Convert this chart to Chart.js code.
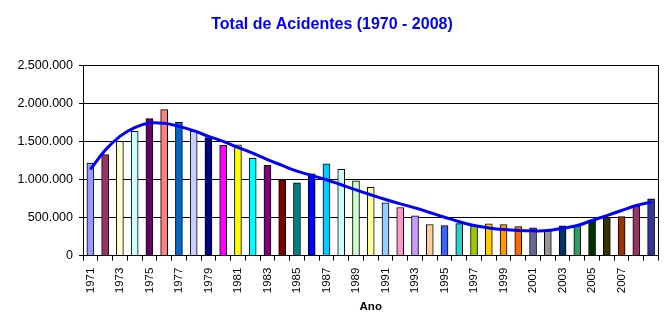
<!DOCTYPE html>
<html>
<head>
<meta charset="utf-8">
<script src="https://cdn.jsdelivr.net/npm/chart.js@4/dist/chart.umd.min.js"></script>
<style>
  html, body { margin: 0; padding: 0; background: #fff; }
  #wrap { width: 672px; height: 329px; }
</style>
</head>
<body>
<div id="wrap"><canvas id="acidentesChart" width="672" height="329"></canvas></div>
<script>
// categories (last one has no label in the original)
const years = ['1971','1972','1973','1974','1975','1976','1977','1978','1979','1980',
               '1981','1982','1983','1984','1985','1986','1987','1988','1989','1990',
               '1991','1992','1993','1994','1995','1996','1997','1998','1999','2000',
               '2001','2002','2003','2004','2005','2006','2007','2008',''];

const acidentes = [1214000, 1325000, 1500000, 1632000, 1799000, 1917000, 1750000, 1632000, 1549000, 1447000,
                   1456000, 1276000, 1184000, 996000, 956000, 1075000, 1206000, 1132000, 982000, 895000,
                   693000, 632000, 522000, 408000, 395000, 421000, 395000, 417000, 408000, 382000,
                   364000, 338000, 391000, 399000, 461000, 504000, 513000, 649000, 746000];

// polynomial trend line
const tendencia = [1132000, 1382000, 1566000, 1680000, 1741000, 1737000, 1697000, 1640000, 1566000, 1500000,
                   1421000, 1346000, 1260000, 1184000, 1109000, 1053000, 996000, 930000, 864000, 799000,
                   737000, 680000, 627000, 566000, 504000, 445000, 395000, 364000, 342000, 329000,
                   325000, 329000, 360000, 395000, 461000, 526000, 592000, 658000, 702000];

const barColors = ['#9999FF','#993366','#FFFFCC','#CCFFFF','#660066','#FF8080','#0066CC','#CCCCFF','#000080','#FF00FF',
                   '#FFFF00','#00FFFF','#800080','#800000','#008080','#0000FF','#00CCFF','#CCFFFF','#CCFFCC','#FFFF99',
                   '#99CCFF','#FF99CC','#CC99FF','#FFCC99','#3366FF','#33CCCC','#99CC00','#FFCC00','#FF9900','#FF6600',
                   '#666699','#969696','#003366','#339966','#003300','#333300','#993300','#993366','#333399'];

const yTicks = [0, 500000, 1000000, 1500000, 2000000, 2500000];

function formatPt(v) {
    return String(v).replace(/\B(?=(\d{3})+(?!\d))/g, '.');
}

// box around plot area (Excel style)
const plotBorder = {
    id: 'plotBorder',
    afterDraw(chart) {
        const a = chart.chartArea;
        const c = chart.ctx;
        c.save();
        c.strokeStyle = '#000';
        c.lineWidth = 1;
        c.strokeRect(Math.round(a.left) + 0.5, Math.round(a.top) + 0.5,
                     Math.round(a.right - a.left), Math.round(a.bottom - a.top));
        c.restore();
    }
};

document.addEventListener("DOMContentLoaded", function() {
    Chart.defaults.font.family = '"Liberation Sans", Arial, sans-serif';
    Chart.defaults.color = '#000';

    const ctx = document.getElementById('acidentesChart').getContext('2d');
    const chart = new Chart(ctx, {
        type: 'bar',
        data: {
            labels: years,
            datasets: [{
                    type: 'line',
                    label: 'Tendência',
                    data: tendencia,
                    borderColor: '#0000FF',
                    borderWidth: 3,
                    pointRadius: 0,
                    fill: false,
                    tension: 0.4,
                    order: 0
                },
                {
                    type: 'bar',
                    label: 'Total de Acidentes',
                    data: acidentes,
                    backgroundColor: barColors,
                    borderColor: '#000',
                    borderWidth: 1,
                    barThickness: 7,
                    order: 1
                }
            ]
        },
        options: {
            responsive: false,
            animation: false,
            layout: {
                padding: { left: 0, right: 8, top: 0, bottom: 15 }
            },
            scales: {
                x: {
                    offset: true,
                    grid: {
                        offset: true,
                        drawOnChartArea: false,
                        color: '#000',
                        tickLength: 5
                    },
                    border: { color: '#000' },
                    ticks: {
                        autoSkip: false,
                        maxRotation: 90,
                        minRotation: 90,
                        padding: 7,
                        font: { size: 11.5 },
                        callback: function(val, index) {
                            return index % 2 === 0 ? this.getLabelForValue(val) : '';
                        }
                    },
                    title: {
                        display: true,
                        text: 'Ano',
                        font: { size: 11.5, weight: 'bold' },
                        padding: { top: 0, bottom: 0 }
                    }
                },
                y: {
                    min: 0,
                    max: 2500000,
                    afterBuildTicks: function(axis) {
                        axis.ticks = yTicks.map(v => ({ value: v }));
                    },
                    afterFit: function(axis) {
                        axis.width = 83;
                    },
                    grid: {
                        color: '#000',
                        tickLength: 4
                    },
                    border: { color: '#000' },
                    ticks: {
                        padding: 6,
                        font: { size: 12.5 },
                        callback: function(value) {
                            return formatPt(value);
                        }
                    }
                }
            },
            plugins: {
                title: {
                    display: true,
                    text: 'Total de Acidentes (1970 - 2008)',
                    color: '#0000FF',
                    font: { size: 16, weight: 'bold' },
                    padding: { top: 15, bottom: 31 }
                },
                legend: {
                    display: false
                },
                tooltip: {
                    enabled: false
                }
            }
        },
        plugins: [plotBorder]
    });
});
</script>
</body>
</html>
